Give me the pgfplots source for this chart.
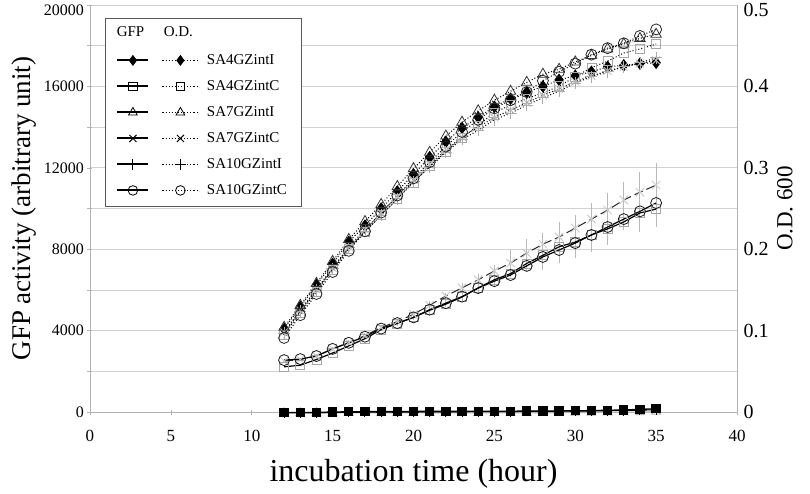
\documentclass[border=0pt]{standalone}
\usepackage{fontspec}
\setmainfont{Liberation Serif}
\usepackage{pgfplots}
\usepackage{pgfplotstable}
\pgfplotsset{compat=1.18}

\pgfplotstableread{
x  gd   gs    gt   gx     gp   gc    ec     ee
12 -20  2220  -50  2500   -30  2550  2525   80
13 -20  2300  -50  2580   -30  2600  2590   80
14 -20  2580  -50  2750   -30  2750  2750   100
15 0    2900  -50  3100   -20  3100  3100   100
16 10   3250  -40  3420   -20  3400  3410   120
17 20   3600  -40  3750   -10  3700  3720   150
18 20   4050  -40  4150   -10  4100  4120   150
19 25   4350  -40  4450   0    4370  4410   180
20 30   4650  -40  4800   0    4650  4720   200
21 30   5000  -40  5250   10   5030  5140   300
22 30   5300  -40  5700   10   5350  5520   350
23 30   5650  -40  6100   10   5670  5880   450
24 35   6100  -40  6500   20   6090  6290   500
25 40   6500  -40  6930   20   6430  6680   550
26 40   6800  -40  7320   20   6730  7300   650
27 45   7300  -40  7810   30   7180  7710   800
28 50   7700  -40  8250   30   7620  7890   900
29 55   8120  -40  8600   40   7960  8330   1000
30 60   8350  -30  9040   40   8300  8620   1060
31 70   8700  -30  9480   50   8700  9060   1200
32 85   9000  -20  9920   60   9090  9480   1280
33 100  9340  -10  10420  70   9480  10120  1180
34 130  9780  0    10800  90   9860  10320  1470
35 160  9970  20   11150  110  10270 10660  1570
}\gfptab

\pgfplotstableread{
x  d     s     t     xx    p     c
12 0.102 0.095 0.104 0.098 0.097 0.091
13 0.129 0.122 0.131 0.125 0.124 0.119
14 0.156 0.148 0.158 0.151 0.150 0.145
15 0.182 0.175 0.185 0.177 0.176 0.172
16 0.209 0.200 0.212 0.203 0.202 0.198
17 0.229 0.221 0.234 0.224 0.222 0.222
18 0.250 0.242 0.255 0.245 0.242 0.245
19 0.271 0.262 0.277 0.265 0.262 0.266
20 0.292 0.282 0.299 0.285 0.283 0.287
21 0.313 0.302 0.319 0.304 0.301 0.307
22 0.332 0.320 0.339 0.322 0.319 0.326
23 0.349 0.337 0.356 0.338 0.335 0.344
24 0.362 0.352 0.370 0.350 0.346 0.359
25 0.375 0.368 0.383 0.362 0.359 0.373
26 0.385 0.377 0.394 0.371 0.367 0.383
27 0.393 0.385 0.405 0.380 0.377 0.393
28 0.400 0.392 0.415 0.389 0.386 0.407
29 0.408 0.400 0.421 0.397 0.394 0.418
30 0.413 0.412 0.430 0.406 0.404 0.428
31 0.418 0.423 0.438 0.413 0.412 0.439
32 0.424 0.431 0.446 0.419 0.418 0.447
33 0.426 0.441 0.452 0.424 0.424 0.453
34 0.428 0.446 0.459 0.428 0.429 0.462
35 0.429 0.452 0.464 0.432 0.435 0.470
}\odtab

\pgfplotsset{
  legtwo/.style={legend image code/.code={
    \draw[solid, line width=2pt, mark repeat=2, mark phase=2] plot coordinates {(0pt,0pt) (15.5pt,0pt) (31pt,0pt)};
    \draw[dotted, line width=1.1pt, mark repeat=2, mark phase=2] plot coordinates {(45pt,0pt) (63pt,0pt) (81pt,0pt)};
  }},
  common/.style={
    scale only axis, width=647pt, height=407pt,
    xmin=0, xmax=40,
    /pgf/number format/assume math mode=true,
    tick style={gray!60, line width=0.6pt},
    major tick length=5pt, minor tick length=5pt,
    tick align=outside,
  },
}

\begin{document}
\begin{tikzpicture}[font=\fontsize{15}{18}\selectfont]
\begin{axis}[common,
  clip=false,
  ymin=0, ymax=20000,
  axis x line=bottom, axis y line=left,
  axis line style={gray!60, -, line width=0.7pt},
  xtick={0,5,...,40},
  ytick={0,4000,8000,12000,16000},
  extra y ticks={20000},
  extra y tick style={grid=major, yticklabel style={yshift=-5pt}},
  minor ytick={2000,6000,10000,14000,18000},
  ymajorgrids, yminorgrids,
  major grid style={gray!35, line width=0.7pt},
  minor grid style={gray!35, line width=0.7pt},
  scaled y ticks=false,
  yticklabel style={/pgf/number format/1000 sep={}, font=\fontsize{16}{18}\selectfont},
  xticklabel style={font=\fontsize{17}{19}\selectfont, yshift=-12pt},
  ylabel={GFP activity (arbitrary unit)},
  ylabel style={at={([xshift=-66pt]axis description cs:0,0.5)}, anchor=center, font=\fontsize{27}{30}\selectfont},
  xlabel={incubation time (hour)},
  xlabel style={at={([yshift=-62pt]axis description cs:0.5,0)}, anchor=center, font=\fontsize{32}{36}\selectfont},
]
% error bars
\addplot[draw=none, mark=none, error bars/.cd, y dir=both, y explicit,
  error mark=none, error bar style={draw=gray!55, solid, line width=1pt}]
  table[x=x, y=ec, y error=ee] {\gfptab};
% near-zero series
\addplot[gray!60, line width=1pt, mark=triangle, mark size=5pt, mark options={solid, fill=white, draw=gray!60}] table[x=x, y=gt] {\gfptab};
\addplot[black, line width=1pt, mark=+, mark size=5pt, mark options={solid}] table[x=x, y=gp] {\gfptab};
\addplot[black, line width=1.3pt, mark=square*, mark size=4pt, mark options={solid, fill=black}] table[x=x, y=gd] {\gfptab};
% C series
\addplot[gray!30!black, line width=1pt, dash pattern=on 9pt off 4pt, mark=x, mark size=6pt, mark options={solid, draw=gray!40, line width=1pt}] table[x=x, y=gx] {\gfptab};
\addplot[black, line width=1.2pt, mark=square, mark size=4.5pt, mark options={solid, fill=white, draw=gray!70, line width=0.8pt}] table[x=x, y=gs] {\gfptab};
\addplot[black, line width=1.2pt, mark=o, mark size=5.5pt, mark options={solid, fill=white, draw=gray!20!black, line width=0.8pt}] table[x=x, y=gc] {\gfptab};
\coordinate (bl) at (rel axis cs:0,0);
\coordinate (tr) at (rel axis cs:1,1);
\end{axis}

\begin{axis}[common,
  ymin=0, ymax=0.5,
  axis x line=none, axis y line=right,
  axis line style={gray!60, -, line width=0.7pt},
  ytick={0,0.1,0.2,0.3,0.4},
  extra y ticks={0.5},
  extra y tick style={yticklabel style={yshift=-5pt}},
  major tick length=0pt,
  yticklabel style={/pgf/number format/fixed, font=\fontsize{20}{22}\selectfont, xshift=3pt},
  ylabel={O.D. 600},
  ylabel style={at={([xshift=48pt]axis description cs:1,0.5)}, anchor=center, font=\fontsize{23}{26}\selectfont},
  legend style={at={(axis description cs:0.0232,0.968)}, anchor=north west,
    draw=gray!70!black, line width=0.8pt, fill=white, inner xsep=11pt, inner ysep=6pt,
    font=\fontsize{15}{18}\selectfont, row sep=6pt, column sep=5pt,
    nodes={text height=11pt, text depth=3pt, inner sep=3pt}},
  legend cell align=left,
]
\addplot[forget plot, black, dotted, line width=1pt, mark=diamond*, mark size=5.5pt, mark options={solid, fill=black}] table[x=x, y=d] {\odtab};
\addplot[forget plot, black, dotted, line width=1pt, mark=square, mark size=4.5pt, mark options={solid, fill=white, draw=gray!70, line width=0.8pt}] table[x=x, y=s] {\odtab};
\addplot[forget plot, black, dotted, line width=1pt, mark=x, mark size=5.5pt, mark options={solid, draw=gray!45, line width=0.9pt}] table[x=x, y=xx] {\odtab};
\addplot[forget plot, black, dotted, line width=1pt, mark=+, mark size=6pt, mark options={solid, draw=gray!65, line width=0.9pt}] table[x=x, y=p] {\odtab};
\addplot[forget plot, black, dotted, line width=1pt, mark=o, mark size=5.5pt, mark options={solid, fill=white, draw=gray!30!black, line width=0.8pt}] table[x=x, y=c] {\odtab};
\addplot[forget plot, black, dotted, line width=1pt, mark=triangle, mark size=6pt, mark options={solid, fill=white, draw=gray!40!black, line width=0.8pt}] table[x=x, y=t] {\odtab};

\addlegendimage{legend image code/.code={
  \node[anchor=base west, inner sep=0pt] at (-1pt,-2pt) {GFP};
  \node[anchor=base west, inner sep=0pt] at (46pt,-2pt) {O.D.};}}
\addlegendentry{\mbox{}}
\addlegendimage{legtwo, black, mark=diamond*, mark size=5pt, mark options={solid, fill=black, line width=0.6pt}}
\addlegendentry{SA4GZintI}
\addlegendimage{legtwo, black, mark=square, mark size=4.2pt, mark options={solid, fill=white, line width=0.8pt}}
\addlegendentry{SA4GZintC}
\addlegendimage{legtwo, black, mark=triangle, mark size=5pt, mark options={solid, fill=white, line width=0.8pt}}
\addlegendentry{SA7GZintI}
\addlegendimage{legtwo, black, mark=x, mark size=5pt, mark options={solid, line width=1pt}}
\addlegendentry{SA7GZintC}
\addlegendimage{legtwo, black, mark=+, mark size=5.5pt, mark options={solid, line width=1pt}}
\addlegendentry{SA10GZintI}
\addlegendimage{legtwo, black, mark=o, mark size=4.8pt, mark options={solid, fill=white, line width=0.8pt}}
\addlegendentry{SA10GZintC}
\end{axis}
\pgfresetboundingbox
\path[use as bounding box] ([xshift=-90pt,yshift=-81pt]bl) rectangle ([xshift=73pt,yshift=5pt]tr);
\end{tikzpicture}
\end{document}
